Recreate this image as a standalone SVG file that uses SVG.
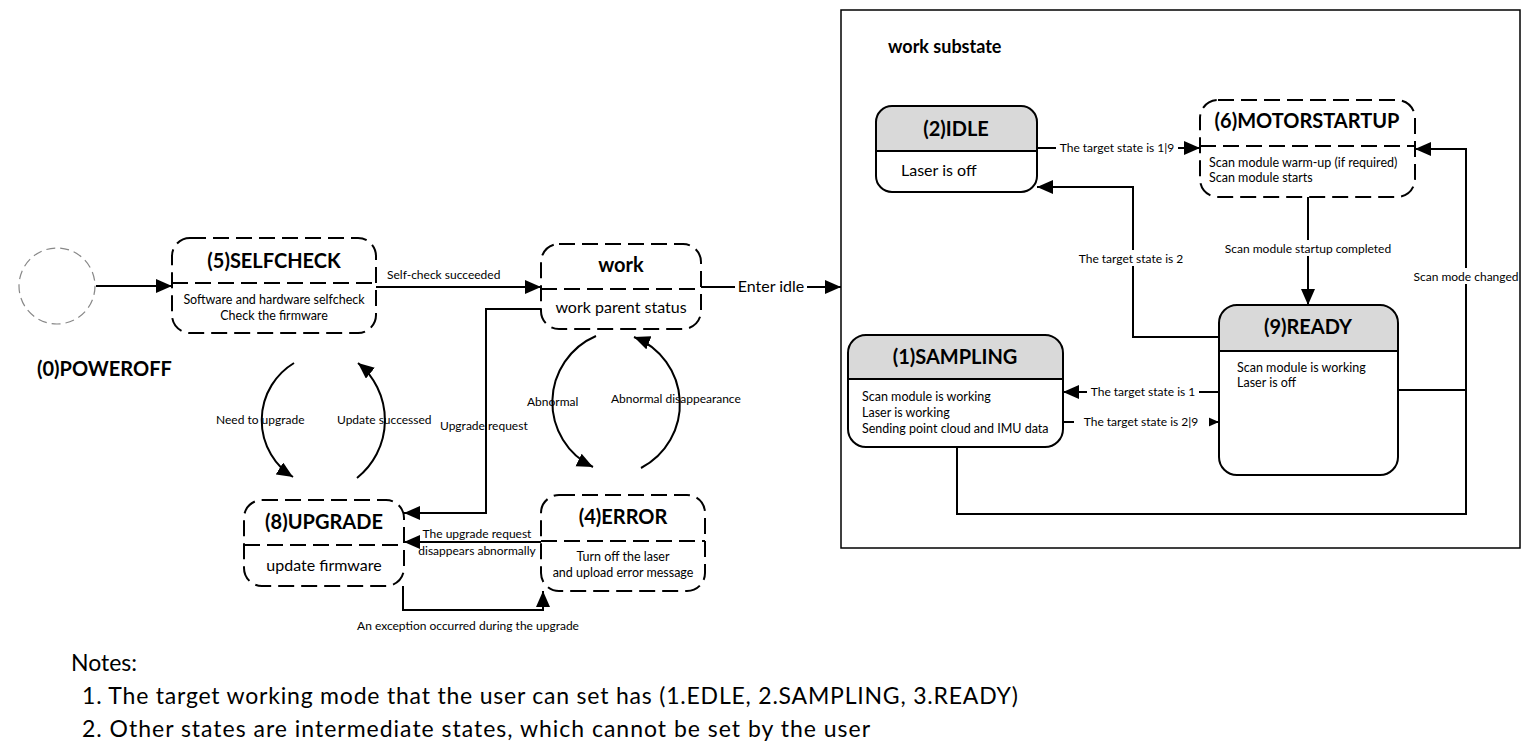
<svg xmlns="http://www.w3.org/2000/svg" width="1530" height="752" viewBox="0 0 1530 752">
<style>
text{font-family:Lato,"Open Sans","Liberation Sans",sans-serif;fill:#000}
.t{font-size:20px;font-weight:bold;text-anchor:middle}
.b16{font-size:16px}
.b12{font-size:12.5px}
.s12{font-size:12px}
.c{text-anchor:middle}
.dn{fill:#fff;stroke:#000;stroke-width:2;stroke-dasharray:16 7}
.dl{stroke:#000;stroke-width:2;stroke-dasharray:16 7}
.sn{fill:none;stroke:#000;stroke-width:2}
.hd{fill:#d9d9d9}
.ln{fill:none;stroke:#000;stroke-width:2}
.ar{marker-end:url(#ah)}
.bg{fill:#fff}
.note{font-size:23px}
</style>
<defs>
<marker id="ah" markerUnits="userSpaceOnUse" markerWidth="17" markerHeight="15" refX="16" refY="7" orient="auto"><path d="M0,0 L16,7 L0,14 z" fill="#000"/></marker>
</defs>
<rect width="1530" height="752" fill="#fff"/>

<g id="frame">
<rect x="841" y="10" width="679" height="538" fill="none" stroke="#000" stroke-width="1.5"/>
<text x="888" y="53" style="font-size:18px;font-weight:bold">work substate</text>
</g>

<g id="connectors">
<path class="ln ar" d="M96,286 H172"/>
<path class="ln ar" d="M376,287 H541"/>
<text class="s12" x="387" y="279">Self-check succeeded</text>
<path class="ln ar" d="M701,287 H841"/>
<rect class="bg" x="735" y="277" width="72" height="20"/>
<text class="b16 c" x="771" y="292">Enter idle</text>
<path class="ln ar" d="M541,309 H486 V513 H404"/>
<text class="s12" x="440" y="430">Upgrade request</text>
<path class="ln ar" d="M541,542 H404"/>
<text class="s12 c" x="477" y="538">The upgrade request</text>
<text class="s12 c" x="477" y="555">disappears abnormally</text>
<path class="ln ar" d="M403,586 V610 H543 V591"/>
<text class="s12 c" x="468" y="630">An exception occurred during the upgrade</text>
<path class="ln ar" d="M294,363 A67,67 0 0 0 293,477"/>
<text class="s12" x="216" y="424">Need to upgrade</text>
<path class="ln ar" d="M357,478 A74,74 0 0 0 358,363"/>
<text class="s12" x="337" y="424">Update successed</text>
<path class="ln ar" d="M596,336 A72,72 0 0 0 593,467"/>
<text class="s12" x="527" y="406">Abnormal</text>
<path class="ln ar" d="M641,468 A72,72 0 0 0 634,337"/>
<text class="s12" x="611" y="403">Abnormal disappearance</text>

<path class="ln ar" d="M1037,148 H1200"/>
<rect class="bg" x="1056" y="140" width="122" height="15"/>
<text class="s12 c" x="1117" y="152">The target state is 1|9</text>
<path class="ln ar" d="M1219,337 H1133 V187 H1037"/>
<rect class="bg" x="1074" y="250" width="118" height="16"/>
<text class="s12 c" x="1131" y="263">The target state is 2</text>
<path class="ln ar" d="M1308,197 V305"/>
<rect class="bg" x="1218" y="240" width="180" height="16"/>
<text class="s12 c" x="1308" y="253">Scan module startup completed</text>
<path class="ln ar" d="M1398,390 H1466 V149 H1415"/>
<path class="ln" d="M957,447 V514 H1466 V390"/>
<rect class="bg" x="1410" y="268" width="108" height="16"/>
<text class="s12 c" x="1466" y="281">Scan mode changed</text>
<path class="ln ar" d="M1219,392 H1063"/>
<rect class="bg" x="1087" y="384" width="112" height="15"/>
<text class="s12 c" x="1143" y="396">The target state is 1</text>
<path class="ln ar" d="M1063,422 H1219"/>
<rect class="bg" x="1074" y="414" width="135" height="15"/>
<text class="s12 c" x="1141" y="426">The target state is 2|9</text>
</g>

<g id="poweroff">
<circle cx="57" cy="286" r="38" fill="#fff" stroke="#888" stroke-width="1.2" stroke-dasharray="9 5"/>
<text x="37" y="376" style="font-size:20px;font-weight:bold">(0)POWEROFF</text>
</g>

<g id="selfcheck">
<rect class="dn" x="172" y="238" width="204" height="95" rx="18"/>
<line class="dl" x1="172" y1="283" x2="376" y2="283"/>
<text class="t" x="274" y="268">(5)SELFCHECK</text>
<text class="b12 c" x="274" y="304">Software and hardware selfcheck</text>
<text class="b12 c" x="274" y="320">Check the firmware</text>
</g>

<g id="work">
<rect class="dn" x="541" y="244" width="160" height="85" rx="18"/>
<line class="dl" x1="541" y1="289" x2="701" y2="289"/>
<text class="t" x="621" y="272">work</text>
<text class="b16 c" x="621" y="313">work parent status</text>
</g>

<g id="upgrade">
<rect class="dn" x="244" y="500" width="160" height="86" rx="18"/>
<line class="dl" x1="244" y1="545" x2="404" y2="545"/>
<text class="t" x="324" y="529">(8)UPGRADE</text>
<text class="b16 c" x="324" y="571">update firmware</text>
</g>

<g id="error">
<rect class="dn" x="541" y="495" width="164" height="96" rx="18"/>
<line class="dl" x1="541" y1="541" x2="705" y2="541"/>
<text class="t" x="623" y="524">(4)ERROR</text>
<text class="b12 c" x="623" y="561">Turn off the laser</text>
<text class="b12 c" x="623" y="577">and upload error message</text>
</g>

<g id="idle">
<rect x="876" y="106" width="161" height="86" rx="16" fill="#fff"/>
<path class="hd" d="M876,151 V122 A16,16 0 0 1 892,106 H1021 A16,16 0 0 1 1037,122 V151 Z"/>
<rect class="sn" x="876" y="106" width="161" height="86" rx="16"/>
<line class="sn" x1="876" y1="151" x2="1037" y2="151"/>
<text class="t" x="956" y="136">(2)IDLE</text>
<text class="b16" x="901" y="176">Laser is off</text>
</g>

<g id="motorstartup">
<rect class="dn" x="1200" y="100" width="215" height="97" rx="18"/>
<line class="dl" x1="1200" y1="146" x2="1415" y2="146"/>
<text class="t" x="1307" y="128">(6)MOTORSTARTUP</text>
<text class="b12" x="1209" y="167">Scan module warm-up (if required)</text>
<text class="b12" x="1209" y="182">Scan module starts</text>
</g>

<g id="ready">
<rect x="1219" y="305" width="179" height="170" rx="18" fill="#fff"/>
<path class="hd" d="M1219,351 V323 A18,18 0 0 1 1237,305 H1380 A18,18 0 0 1 1398,323 V351 Z"/>
<rect class="sn" x="1219" y="305" width="179" height="170" rx="18"/>
<line class="sn" x1="1219" y1="351" x2="1398" y2="351"/>
<text class="t" x="1308" y="334">(9)READY</text>
<text class="b12" x="1237" y="372">Scan module is working</text>
<text class="b12" x="1237" y="387">Laser is off</text>
</g>

<g id="sampling">
<rect x="848" y="335" width="215" height="112" rx="18" fill="#fff"/>
<path class="hd" d="M848,379 V353 A18,18 0 0 1 866,335 H1045 A18,18 0 0 1 1063,353 V379 Z"/>
<rect class="sn" x="848" y="335" width="215" height="112" rx="18"/>
<line class="sn" x1="848" y1="379" x2="1063" y2="379"/>
<text class="t" x="955" y="364">(1)SAMPLING</text>
<text class="b12" x="862" y="401">Scan module is working</text>
<text class="b12" x="862" y="417">Laser is working</text>
<text class="b12" x="862" y="433">Sending point cloud and IMU data</text>
</g>

<g id="notes">
<text class="note" x="71" y="671">Notes:</text>
<text class="note" x="82" y="704" textLength="936">1. The target working mode that the user can set has (1.EDLE, 2.SAMPLING, 3.READY)</text>
<text class="note" x="82" y="737" textLength="788">2. Other states are intermediate states, which cannot be set by the user</text>
</g>
</svg>
